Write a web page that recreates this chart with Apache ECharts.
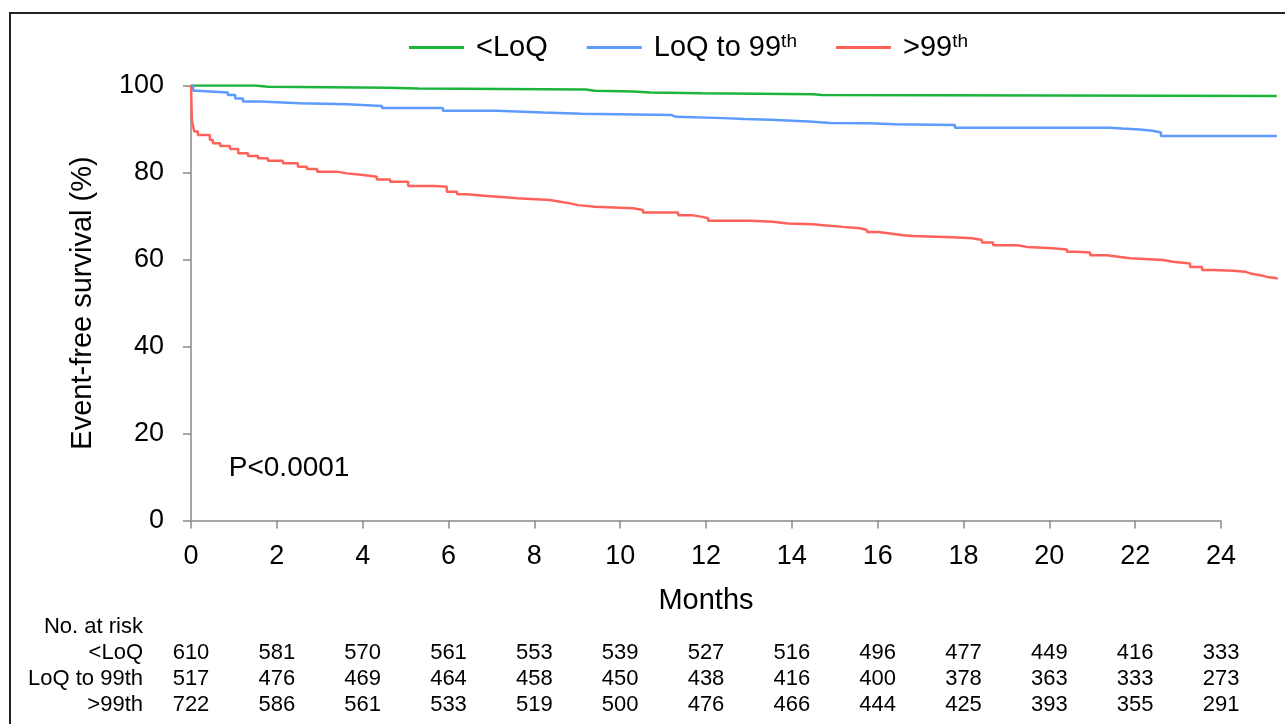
<!DOCTYPE html>
<html>
<head>
<meta charset="utf-8">
<script src="https://cdn.jsdelivr.net/npm/echarts@6/dist/echarts.min.js"></script>
<style>html,body{margin:0;padding:0;background:#fff;}#c{width:1285px;height:724px;}</style>
</head>
<body>
<div id="c"></div>
<script>
// ---- data ----
const seriesNames = ['<LoQ', 'LoQ to 99th', '>99th'];
const xTicks = [0, 2, 4, 6, 8, 10, 12, 14, 16, 18, 20, 22, 24];
const yTicks = [0, 20, 40, 60, 80, 100];
const xAxisEnd = 25.3;   // follow-up shown beyond the last tick

const greenKM = [[0,100],[1.5,99.7],[1.8,99.5],[4.6,99.3],[5.3,99.1],[9.2,98.8],[9.4,98.6],[10.3,98.4],[10.7,98.2],[11.9,98.0],[14.5,97.8],[14.7,97.6],[25.3,97.6]];
const blueKM = [[0,100],[0.05,98.8],[0.14,98.4],[0.86,97.8],[1.03,97.0],[1.21,96.3],[1.61,95.9],[2.54,95.7],[3.63,95.3],[4.45,94.8],[5.87,94.2],[7.13,93.8],[8.2,93.5],[9.1,93.2],[11.2,92.8],[11.3,92.5],[12.4,92.3],[12.9,92.1],[13.5,91.7],[14.4,91.4],[14.9,91.3],[15.8,91.1],[16.4,90.9],[17.8,90.3],[21.4,90.1],[21.7,89.9],[22.1,89.6],[22.4,89.2],[22.6,88.4],[25.3,88.4]];
const redKM = [[0,100],[0.02,92.1],[0.05,90.5],[0.08,89.4],[0.16,88.6],[0.44,87.5],[0.51,86.7],[0.68,86.1],[0.91,85.4],[1.10,84.4],[1.33,83.8],[1.56,83.3],[1.79,82.7],[2.14,82.1],[2.49,81.3],[2.70,80.8],[2.94,80.2],[3.40,79.8],[3.63,79.4],[4.01,79.0],[4.33,78.4],[4.64,77.9],[5.06,76.9],[5.68,76.7],[5.96,75.6],[6.20,75.0],[6.43,74.6],[6.90,74.3],[7.32,74.1],[7.60,73.7],[8.36,73.3],[8.60,72.9],[8.83,72.5],[9.02,72.1],[9.41,71.8],[10.30,71.4],[10.53,70.8],[11.35,70.2],[11.67,69.8],[11.91,69.5],[12.05,68.9],[13.02,68.7],[13.56,68.3],[13.91,68.1],[14.49,67.9],[14.73,67.5],[15.19,67.2],[15.59,66.8],[15.75,66.3],[16.01,66.0],[16.29,65.6],[16.59,65.4],[16.82,65.1],[17.73,64.9],[18.20,64.5],[18.43,63.9],[18.69,63.3],[19.25,62.9],[19.48,62.6],[20.08,62.3],[20.41,61.8],[20.64,61.6],[20.95,61.0],[21.34,60.6],[21.65,60.3],[21.88,59.9],[22.65,59.5],[22.88,59.1],[23.28,58.3],[23.56,57.6],[23.81,57.4],[24.28,57.2],[24.56,56.8],[24.68,56.4],[24.91,56.0],[25.07,55.7],[25.30,55.4]];

const riskMonths = [0, 2, 4, 6, 8, 10, 12, 14, 16, 18, 20, 22, 24];
const riskLabels = ['<LoQ', 'LoQ to 99th', '>99th'];
const riskLoQ = [610, 581, 570, 561, 553, 539, 527, 516, 496, 477, 449, 416, 333];
const riskMid = [517, 476, 469, 464, 458, 450, 438, 416, 400, 378, 363, 333, 273];
const riskHigh = [722, 586, 561, 533, 519, 500, 476, 466, 444, 425, 393, 355, 291];
const pText = 'P<0.0001';
const xTitle = 'Months';
const yTitle = 'Event-free survival (%)';

// ---- chart ----
const FONT = 'Arial, "Liberation Sans", sans-serif';
const AX = '#8a8a8a';
const colors = ['#1cb53c', '#5d9bff', '#ff625a'];
const chart = echarts.init(document.getElementById('c'), null, {renderer: 'canvas'});

const legendFmt = {
  '<LoQ': '{n|<LoQ}',
  'LoQ to 99th': '{n|LoQ to 99}{s|th}',
  '>99th': '{n|>99}{s|th}'
};

const option = {
  animation: false,
  backgroundColor: '#ffffff',
  color: colors,
  legend: {
    left: 404, top: 27,
    icon: 'rect', itemWidth: 55, itemHeight: 3, itemGap: 39,
    data: seriesNames,
    formatter: n => legendFmt[n],
    textStyle: {
      fontFamily: FONT, color: '#000', padding: [0, 0, 0, 7],
      rich: {
        n: {fontSize: 29, fontFamily: FONT, color: '#000', lineHeight: 34},
        s: {fontSize: 19, fontFamily: FONT, color: '#000', padding: [0, 0, 12, 0], lineHeight: 34}
      }
    }
  },
  grid: {left: 191, right: 8.2, top: 85.5, bottom: 203.5, containLabel: false},
  xAxis: {
    type: 'value', min: 0, max: xAxisEnd,
    axisLine: {show: false},
    axisTick: {show: true, length: 8, customValues: xTicks, lineStyle: {color: AX, width: 1.5}},
    axisLabel: {fontFamily: FONT, fontSize: 27, color: '#000', margin: 23, customValues: xTicks},
    splitLine: {show: false}
  },
  yAxis: {
    type: 'value', min: 0, max: 100, interval: 20,
    name: yTitle, nameLocation: 'middle', nameGap: 94,
    nameTextStyle: {fontFamily: FONT, fontSize: 29, color: '#000'},
    axisLine: {show: true, lineStyle: {color: AX, width: 1.5}},
    axisTick: {show: true, length: 8, lineStyle: {color: AX, width: 1.5}},
    axisLabel: {fontFamily: FONT, fontSize: 27, color: '#000', margin: 27},
    splitLine: {show: false}
  },
  series: [
    {name: seriesNames[0], type: 'line', step: 'end', data: greenKM, showSymbol: false, lineStyle: {width: 2.5, color: colors[0]}, z: 3,
     markLine: {silent: true, symbol: 'none', label: {show: false}, lineStyle: {color: AX, width: 1.5, type: 'solid'},
       data: [[{coord: [xTicks[0], 0]}, {coord: [xTicks[xTicks.length - 1], 0]}]]}},
    {name: seriesNames[1], type: 'line', step: 'end', data: blueKM, showSymbol: false, lineStyle: {width: 2.5, color: colors[1]}, z: 3},
    {name: seriesNames[2], type: 'line', step: 'end', data: redKM, showSymbol: false, lineStyle: {width: 2.5, color: colors[2]}, z: 3}
  ]
};
chart.setOption(option);

// ---- annotations and at-risk table placed through the axis scales ----
const g = [];
// frame
g.push({type: 'polyline', shape: {points: [[10, 724], [10, 13], [1285, 13]]}, style: {stroke: '#222', lineWidth: 2, fill: null}, silent: true});
// x title centred on the tick range
const xMid = chart.convertToPixel({xAxisIndex: 0}, (xTicks[0] + xTicks[xTicks.length - 1]) / 2);
g.push({type: 'text', x: xMid, y: 601, style: {text: xTitle, font: '29px ' + FONT, fill: '#000', textAlign: 'center', textVerticalAlign: 'middle'}});
// P value
const pPos = chart.convertToPixel({gridIndex: 0}, [0.88, 12]);
g.push({type: 'text', x: pPos[0], y: pPos[1], style: {text: pText, font: '28px ' + FONT, fill: '#000', textAlign: 'left', textVerticalAlign: 'middle'}});
// at risk table
const rowY = [653, 679, 705];
const labelX = 143;
const TF = '22px ' + FONT;
g.push({type: 'text', x: labelX, y: 627, style: {text: 'No. at risk', font: TF, fill: '#000', textAlign: 'right', textVerticalAlign: 'middle'}});
const rows = [riskLoQ, riskMid, riskHigh];
rows.forEach((vals, r) => {
  g.push({type: 'text', x: labelX, y: rowY[r], style: {text: riskLabels[r], font: TF, fill: '#000', textAlign: 'right', textVerticalAlign: 'middle'}});
  vals.forEach((v, i) => {
    const px = chart.convertToPixel({xAxisIndex: 0}, riskMonths[i]);
    g.push({type: 'text', x: px, y: rowY[r], style: {text: String(v), font: TF, fill: '#000', textAlign: 'center', textVerticalAlign: 'middle'}});
  });
});
chart.setOption({graphic: g});
</script>
</body>
</html>
